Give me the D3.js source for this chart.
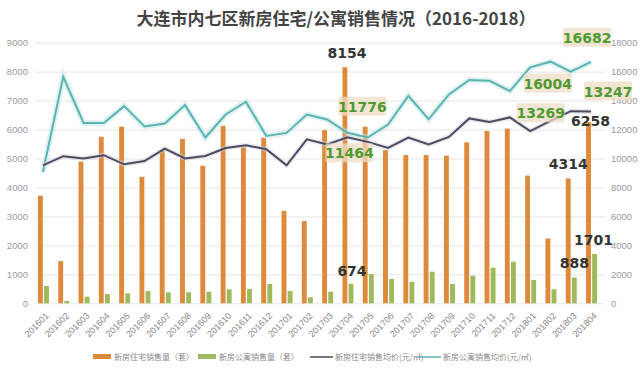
<!DOCTYPE html>
<html>
<head>
<meta charset="utf-8">
<script src="https://cdn.jsdelivr.net/npm/d3@7"></script>
<style>
  body { margin: 0; background: #fff; }
  svg { display: block; font-family: "Noto Sans CJK SC", "Noto Sans", sans-serif; }
</style>
</head>
<body>
<svg id="chart" width="640" height="371"></svg>
<script>
// sales data, 2016-01 .. 2018-04
var months = ["201601","201602","201603","201604","201605","201606","201607","201608","201609","201610","201611","201612",
              "201701","201702","201703","201704","201705","201706","201707","201708","201709","201710","201711","201712",
              "201801","201802","201803","201804"];
var resSales = [3715,1460,4890,5750,6100,4370,5290,5680,4750,6130,5390,5720,
                3190,2840,5980,8154,6100,5290,5120,5120,5100,5560,5950,6030,
                4410,2240,4314,6258];
var aptSales = [597,80,230,320,345,425,380,380,400,483,494,666,
                425,207,400,674,1012,839,746,1091,666,953,1230,1437,
                805,483,888,1701];
var resPrice = [9530,10160,10000,10230,9600,9830,10690,10000,10180,10730,10920,10640,
                9530,11330,10970,11464,11150,10730,11450,10970,11490,12770,12530,12840,
                11890,12600,13269,13247];
var aptPrice = [9070,15650,12460,12460,13620,12210,12420,13690,11450,13040,13920,11560,
                11770,13040,12700,11776,11450,12350,14330,12720,14430,15420,15370,14660,
                16300,16690,16004,16682];

var leftTicks = [0,1000,2000,3000,4000,5000,6000,7000,8000,9000];
var rightTicks = [0,2000,4000,6000,8000,10000,12000,14000,16000,18000];

var legendNames = ["新房住宅销售量（套）","新房公寓销售量（套）","新房住宅销售均价(元/㎡)","新房公寓销售均价(元/㎡)"];

// labels: [series, month index, text]
var callouts = [
  ["res", 15, "8154"], ["apt", 15, "674"], ["aptP", 15, "11776"], ["resP", 15, "11464"],
  ["aptP", 26, "16004"], ["resP", 26, "13269"], ["res", 26, "4314"], ["apt", 26, "888"],
  ["aptP", 27, "16682"], ["resP", 27, "13247"], ["res", 27, "6258"], ["apt", 27, "1701"]
];

var ORANGE = "#de8a3c";
var GREEN = "#9fba5c";
var DARK = "#4d4b5f";
var TEAL = "#5cb3b0";

var svg = d3.select("#chart");

var x = d3.scaleBand()
	.domain(months)
	.range([32.8, 601.2])
	.padding(0);

var sub = d3.scaleBand()
	.domain(["res","apt"])
	.range([-5, 6])
	.paddingInner(0.2);

var yL = d3.scaleLinear().domain([0, 9000]).range([303.3, 42.7]);
var yR = d3.scaleLinear().domain([0, 18000]).range([303.3, 42.7]);

function cx(i) { return x(months[i]) + x.bandwidth() / 2; }

// title
svg.append("text")
	.attr("x", 336)
	.attr("y", 25)
	.attr("text-anchor", "middle")
	.style("font-size", "17px")
	.style("font-weight", "bold")
	.style("fill", "#444")
	.text("大连市内七区新房住宅/公寓销售情况（2016-2018）");

// grid
svg.append("g")
	.attr("transform", "translate(35,0)")
	.call(d3.axisLeft(yL).tickValues(leftTicks).tickSize(-570).tickFormat(""))
	.call(function(g) {
		g.select(".domain").remove();
		g.selectAll("line").attr("stroke", "#e6e6e6");
	});

// left axis
svg.append("g")
	.attr("transform", "translate(30,0)")
	.call(d3.axisLeft(yL).tickValues(leftTicks).tickSize(0).tickFormat(d3.format("d")))
	.call(function(g) {
		g.select(".domain").remove();
		g.selectAll("text").attr("x", -2).style("font-size", "9.5px").style("fill", "#999")
			.style("font-family", "'Liberation Sans', sans-serif");
	});

// right axis
svg.append("g")
	.attr("transform", "translate(609,0)")
	.call(d3.axisRight(yR).tickValues(rightTicks).tickSize(0).tickFormat(d3.format("d")))
	.call(function(g) {
		g.select(".domain").remove();
		g.selectAll("text").attr("x", 2).style("font-size", "9.5px").style("fill", "#999")
			.style("font-family", "'Liberation Sans', sans-serif");
	});

// x labels
svg.append("g")
	.selectAll("text")
	.data(months)
	.enter()
	.append("text")
	.attr("transform", function(d, i) { return "translate(" + (cx(i) + 2) + ",312) rotate(-45)"; })
	.attr("text-anchor", "end")
	.attr("dy", "0.7em")
	.style("font-size", "9px")
	.style("fill", "#888")
	.style("font-family", "'Liberation Sans', sans-serif")
	.text(function(d) { return d; });

// bars
svg.append("g")
	.selectAll("rect")
	.data(resSales)
	.enter()
	.append("rect")
	.attr("x", function(d, i) { return cx(i) + sub("res"); })
	.attr("width", sub.bandwidth())
	.attr("y", function(d) { return yL(d); })
	.attr("height", function(d) { return yL(0) - yL(d); })
	.style("fill", ORANGE);

svg.append("g")
	.selectAll("rect")
	.data(aptSales)
	.enter()
	.append("rect")
	.attr("x", function(d, i) { return cx(i) + sub("apt"); })
	.attr("width", sub.bandwidth())
	.attr("y", function(d) { return yL(d); })
	.attr("height", function(d) { return yL(0) - yL(d); })
	.style("fill", GREEN);

// lines
var line = d3.line()
	.x(function(d, i) { return cx(i); })
	.y(function(d) { return yR(d); });

svg.append("path").attr("d", line(aptPrice))
	.attr("fill", "none").attr("stroke", "#bfe8e6").attr("stroke-width", 6).attr("opacity", 0.5);
svg.append("path").attr("d", line(aptPrice))
	.attr("fill", "none").attr("stroke", TEAL).attr("stroke-width", 2);

svg.append("path").attr("d", line(resPrice))
	.attr("fill", "none").attr("stroke", "#d6d4e0").attr("stroke-width", 5).attr("opacity", 0.5);
svg.append("path").attr("d", line(resPrice))
	.attr("fill", "none").attr("stroke", DARK).attr("stroke-width", 2);

// data labels
var labelOffset = {
	"res-15": [2, -14], "apt-15": [1, -13], "aptP-15": [15, -26], "resP-15": [2, 16],
	"aptP-26": [-23, 12], "resP-26": [-30, 2], "res-26": [0, -14], "apt-26": [0, -15],
	"aptP-27": [-4, -24], "resP-27": [17, -20], "res-27": [2, -1], "apt-27": [-1, -14]
};

callouts.forEach(function(c) {
	var i = c[1];
	var px, py, green;
	if (c[0] == "res") { px = cx(i) + sub("res") + sub.bandwidth() / 2; py = yL(resSales[i]); green = false; }
	else if (c[0] == "apt") { px = cx(i) + sub("apt") + sub.bandwidth() / 2; py = yL(aptSales[i]); green = false; }
	else if (c[0] == "resP") { px = cx(i); py = yR(resPrice[i]); green = true; }
	else { px = cx(i); py = yR(aptPrice[i]); green = true; }
	var off = labelOffset[c[0] + "-" + i];
	var tx = px + off[0], ty = py + off[1];
	if (green) {
		svg.append("rect")
			.attr("x", tx - 24).attr("y", ty - 10)
			.attr("width", 48).attr("height", 19)
			.attr("rx", 2)
			.style("fill", "#efdcc4").style("opacity", 0.75);
	}
	svg.append("text")
		.attr("x", tx).attr("y", ty)
		.attr("text-anchor", "middle")
		.attr("dy", "0.36em")
		.style("font-size", "14px")
		.style("font-weight", "bold")
		.style("fill", green ? "#4f9a30" : "#333")
		.style("font-family", "'DejaVu Sans', sans-serif")
		.text(c[2]);
});

// legend
var legendX = [93, 198, 310, 418];
var legendColors = [ORANGE, GREEN, DARK, TEAL];
var lg = svg.append("g").attr("transform", "translate(0,357)");
legendNames.forEach(function(name, k) {
	if (k < 2) {
		lg.append("rect").attr("x", legendX[k]).attr("y", -3).attr("width", 18).attr("height", 5)
			.style("fill", legendColors[k]);
	} else {
		lg.append("line").attr("x1", legendX[k]).attr("x2", legendX[k] + 23).attr("y1", 0).attr("y2", 0)
			.attr("stroke", legendColors[k]).attr("stroke-width", 1.5);
	}
	lg.append("text")
		.attr("x", legendX[k] + (k < 2 ? 21 : 25))
		.attr("dy", "0.35em")
		.style("font-size", "8px")
		.style("fill", "#888")
		.text(name);
});
</script>
</body>
</html>
